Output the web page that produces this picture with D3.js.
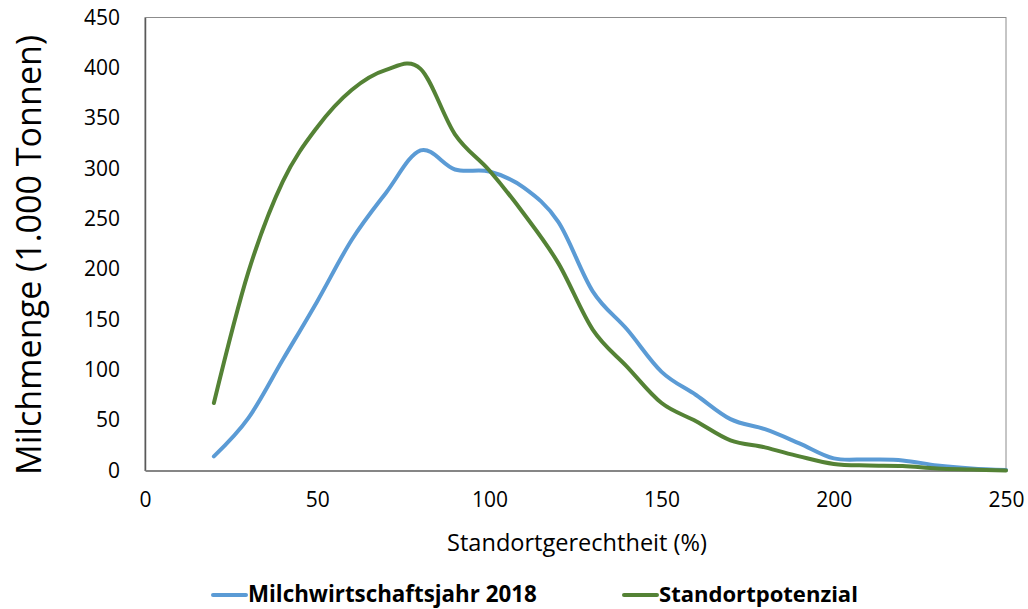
<!DOCTYPE html>
<html>
<head>
<meta charset="utf-8">
<script src="https://cdn.jsdelivr.net/npm/d3@7"></script>
<style>
  body { margin: 0; background: #fff; }
  svg { display: block; font-family: "Open Sans", "Noto Sans", sans-serif; }
</style>
</head>
<body>
<svg id="chart" width="1028" height="609"></svg>
<script>
// Standortgerechtheit (%) -> Milchmenge (1.000 t)
const xValues = [20, 30, 40, 50, 60, 70, 80, 90, 100, 110, 120, 130, 140, 150, 160, 170, 180, 190, 200, 210, 220, 230, 240, 250];
const milch2018 = [14, 52, 110, 168, 229, 276, 318, 299, 297, 281, 247, 178, 140, 98, 75, 51, 41, 27, 12, 11, 10, 5, 2, 0.5];
const standort  = [67, 197, 287, 341, 378, 398, 399, 334, 298, 255, 206, 140, 103, 67, 49, 30, 23, 14, 6.5, 5, 4.5, 2, 1, 0];
const xTicks = [0, 50, 100, 150, 200, 250];
const yTicks = [0, 50, 100, 150, 200, 250, 300, 350, 400, 450];

const series = [
  { name: "Milchwirtschaftsjahr 2018", values: milch2018, color: "#5b9bd5" },
  { name: "Standortpotenzial", values: standort, color: "#548235" }
];

const svg = d3.select("#chart");
const m = { left: 145, right: 1006, top: 17.5, bottom: 470.5 };

const x = d3.scaleLinear().domain([0, 250]).range([m.left, m.right]);
const y = d3.scaleLinear().domain([0, 450]).range([m.bottom, m.top]);

// fit a text element to a target width
function fit(sel, w) {
  const len = sel.node().getComputedTextLength();
  const fs = parseFloat(sel.style("font-size"));
  sel.style("font-size", (fs * w / len) + "px");
}

// plot frame
svg.append("rect")
  .attr("x", m.left).attr("y", m.top)
  .attr("width", m.right - m.left).attr("height", m.bottom - m.top)
  .attr("fill", "none").attr("stroke", "#8c8c8c").attr("stroke-width", 1);

// axes
const yAxis = svg.append("g")
  .attr("transform", `translate(${m.left},0)`)
  .call(d3.axisLeft(y).tickValues(yTicks).tickSize(0).tickPadding(25));
yAxis.select(".domain").attr("stroke", "#595959").attr("stroke-width", 1.5);

const xAxis = svg.append("g")
  .attr("transform", `translate(0,${m.bottom})`)
  .call(d3.axisBottom(x).tickValues(xTicks).tickSize(0).tickPadding(22));
xAxis.select(".domain").attr("stroke", "#868686").attr("stroke-width", 2);

svg.selectAll(".tick text")
  .attr("fill", "#000")
  .style("font-family", "'Open Sans', sans-serif")
  .style("font-size", "21px");

// lines (uniform Catmull-Rom, close to Excel's smoothed lines)
const line = d3.line()
  .x((d, i) => x(xValues[i]))
  .y(d => y(d))
  .curve(d3.curveCatmullRom.alpha(0));

svg.append("g").selectAll("path").data(series).enter().append("path")
  .attr("d", d => line(d.values))
  .attr("fill", "none")
  .attr("stroke", d => d.color)
  .attr("stroke-width", 4)
  .attr("stroke-linecap", "round")
  .attr("stroke-linejoin", "round");

// axis titles
const yTitle = svg.append("text")
  .attr("transform", "translate(41,255) rotate(-90)")
  .attr("text-anchor", "middle")
  .style("font-size", "32px")
  .text("Milchmenge (1.000 Tonnen)");
fit(yTitle, 440);

const xTitle = svg.append("text")
  .attr("x", 577).attr("y", 551)
  .attr("text-anchor", "middle")
  .style("font-size", "19px")
  .text("Standortgerechtheit (%)");
fit(xTitle, 260);

// legend
const legend = [
  { x0: 213, x1: 246, tx: 248, tw: 289 },
  { x0: 624, x1: 657, tx: 659, tw: 199 }
];
series.forEach((s, i) => {
  const L = legend[i];
  svg.append("line")
    .attr("x1", L.x0).attr("x2", L.x1).attr("y1", 595).attr("y2", 595)
    .attr("stroke", s.color).attr("stroke-width", 4).attr("stroke-linecap", "round");
  const t = svg.append("text")
    .attr("x", L.tx).attr("y", 602)
    .style("font-size", "21px").style("font-weight", "bold")
    .text(s.name);
  fit(t, L.tw);
});
</script>
</body>
</html>
